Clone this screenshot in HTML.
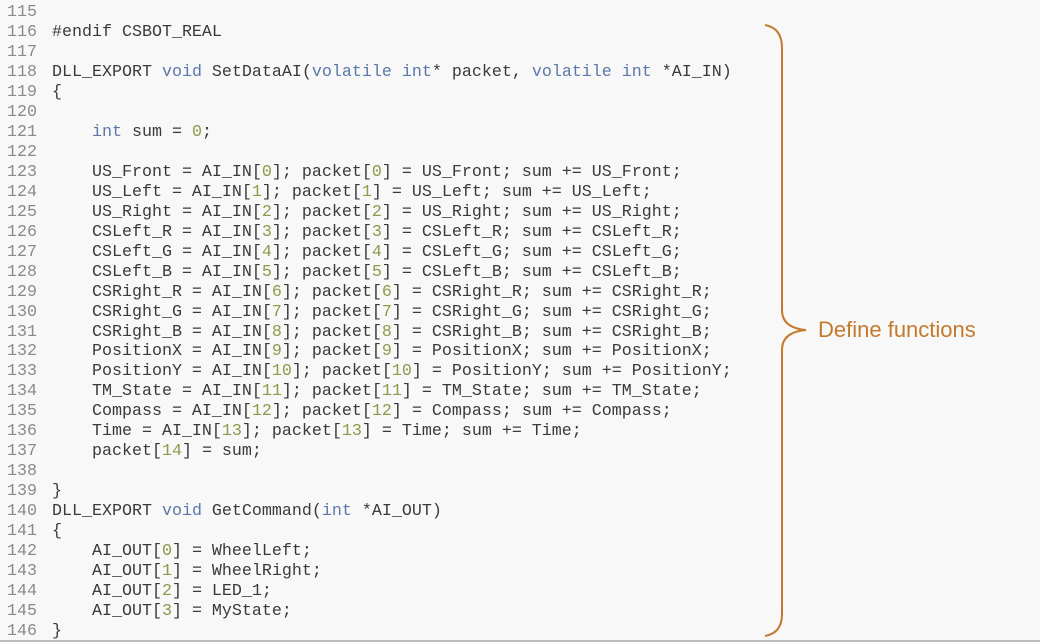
<!DOCTYPE html>
<html><head><meta charset="utf-8"><style>
html,body{margin:0;padding:0;}
body{width:1040px;height:642px;background:#f8f8f8;position:relative;overflow:hidden;}
.code{position:absolute;left:0;top:3px;font-family:"Liberation Mono",monospace;font-size:16.67px;line-height:19.97px;color:#3a3a3a;white-space:pre;}
.ln{color:#8a8a8a;display:inline-block;width:52px;padding-left:7px;box-sizing:border-box;}
.k{color:#5a78a8;}
.n{color:#8c9a4a;}
.lbl{position:absolute;left:818px;top:317px;font-family:"Liberation Sans",sans-serif;font-size:22px;color:#c47a2c;}
.bot{position:absolute;left:0;top:640px;width:1040px;height:2px;background:#bdbdbd;}
</style></head><body>
<div class="code"><span class="ln">115</span>
<span class="ln">116</span>#endif CSBOT_REAL
<span class="ln">117</span>
<span class="ln">118</span>DLL_EXPORT <span class="k">void</span> SetDataAI(<span class="k">volatile</span> <span class="k">int</span>* packet, <span class="k">volatile</span> <span class="k">int</span> *AI_IN)
<span class="ln">119</span>{
<span class="ln">120</span>
<span class="ln">121</span>    <span class="k">int</span> sum = <span class="n">0</span>;
<span class="ln">122</span>
<span class="ln">123</span>    US_Front = AI_IN[<span class="n">0</span>]; packet[<span class="n">0</span>] = US_Front; sum += US_Front;
<span class="ln">124</span>    US_Left = AI_IN[<span class="n">1</span>]; packet[<span class="n">1</span>] = US_Left; sum += US_Left;
<span class="ln">125</span>    US_Right = AI_IN[<span class="n">2</span>]; packet[<span class="n">2</span>] = US_Right; sum += US_Right;
<span class="ln">126</span>    CSLeft_R = AI_IN[<span class="n">3</span>]; packet[<span class="n">3</span>] = CSLeft_R; sum += CSLeft_R;
<span class="ln">127</span>    CSLeft_G = AI_IN[<span class="n">4</span>]; packet[<span class="n">4</span>] = CSLeft_G; sum += CSLeft_G;
<span class="ln">128</span>    CSLeft_B = AI_IN[<span class="n">5</span>]; packet[<span class="n">5</span>] = CSLeft_B; sum += CSLeft_B;
<span class="ln">129</span>    CSRight_R = AI_IN[<span class="n">6</span>]; packet[<span class="n">6</span>] = CSRight_R; sum += CSRight_R;
<span class="ln">130</span>    CSRight_G = AI_IN[<span class="n">7</span>]; packet[<span class="n">7</span>] = CSRight_G; sum += CSRight_G;
<span class="ln">131</span>    CSRight_B = AI_IN[<span class="n">8</span>]; packet[<span class="n">8</span>] = CSRight_B; sum += CSRight_B;
<span class="ln">132</span>    PositionX = AI_IN[<span class="n">9</span>]; packet[<span class="n">9</span>] = PositionX; sum += PositionX;
<span class="ln">133</span>    PositionY = AI_IN[<span class="n">10</span>]; packet[<span class="n">10</span>] = PositionY; sum += PositionY;
<span class="ln">134</span>    TM_State = AI_IN[<span class="n">11</span>]; packet[<span class="n">11</span>] = TM_State; sum += TM_State;
<span class="ln">135</span>    Compass = AI_IN[<span class="n">12</span>]; packet[<span class="n">12</span>] = Compass; sum += Compass;
<span class="ln">136</span>    Time = AI_IN[<span class="n">13</span>]; packet[<span class="n">13</span>] = Time; sum += Time;
<span class="ln">137</span>    packet[<span class="n">14</span>] = sum;
<span class="ln">138</span>
<span class="ln">139</span>}
<span class="ln">140</span>DLL_EXPORT <span class="k">void</span> GetCommand(<span class="k">int</span> *AI_OUT)
<span class="ln">141</span>{
<span class="ln">142</span>    AI_OUT[<span class="n">0</span>] = WheelLeft;
<span class="ln">143</span>    AI_OUT[<span class="n">1</span>] = WheelRight;
<span class="ln">144</span>    AI_OUT[<span class="n">2</span>] = LED_1;
<span class="ln">145</span>    AI_OUT[<span class="n">3</span>] = MyState;
<span class="ln">146</span>}</div>
<svg style="position:absolute;left:0;top:0" width="1040" height="642">
<path d="M765,25 Q782,28 782,48 L782,310 Q782,328 806,330 Q782,332 782,350 L782,614 Q782,633 765,636" fill="none" stroke="#c47a2c" stroke-width="2"/>
</svg>
<div class="lbl">Define functions</div>
<div class="bot"></div>
</body></html>
